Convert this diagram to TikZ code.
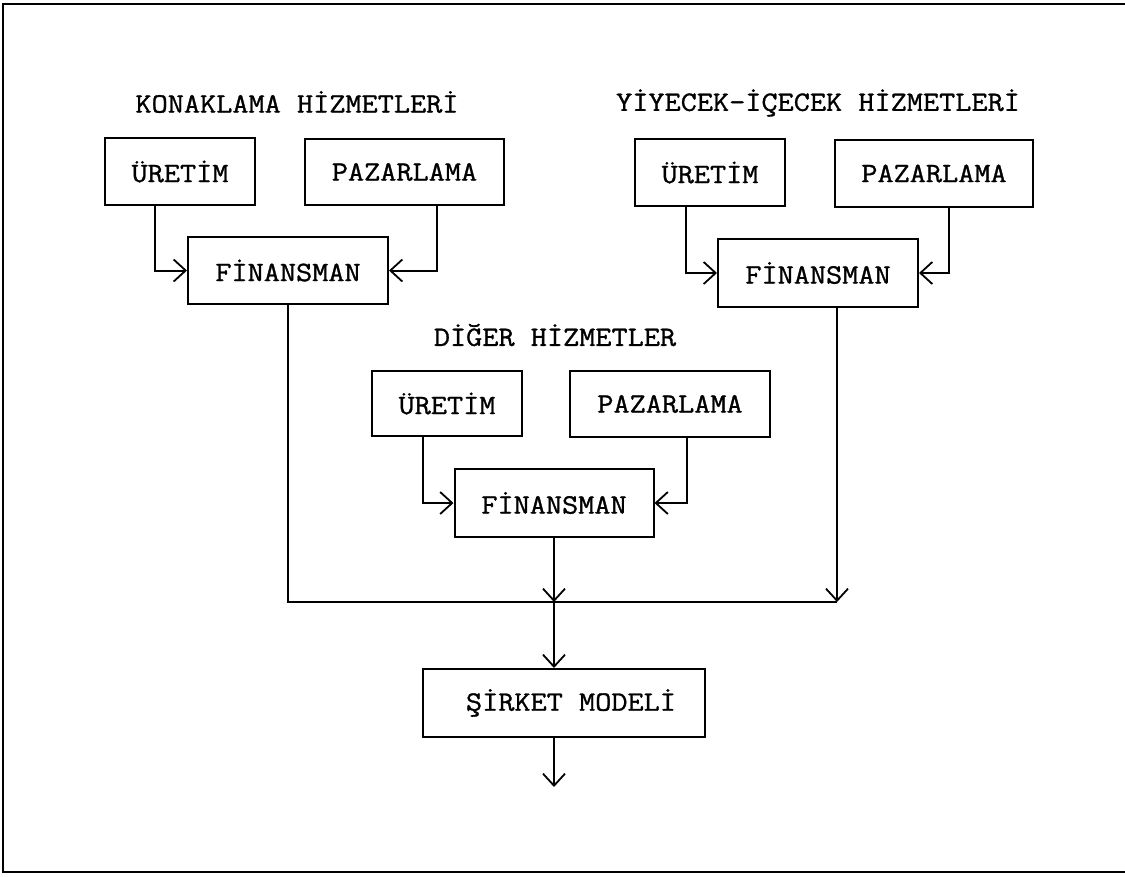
\documentclass[tikz,border=0pt]{standalone}
\usepackage{fontspec}
\newfontfamily\tw[FakeStretch=1.12,FakeBold=1.1]{Latin Modern Mono}
\usetikzlibrary{arrows.meta}
\tikzset{
  lw/.style={line width=2pt},
  box/.style={draw, lw, inner sep=0pt, font=\tw\fontsize{28}{30}\selectfont},
  ttl/.style={inner sep=0pt, font=\tw\fontsize{28}{30}\selectfont},
  conn/.style={lw, -{Straight Barb[length=12pt,width=22pt,line width=1.8pt]}},
  plain/.style={lw},
}
\begin{document}
\begin{tikzpicture}[x=1pt,y=-1pt]
\useasboundingbox (0,0) rectangle (1125,876);
% frame
\coordinate (ftr) at (1126,4);
\coordinate (ftl) at (3,4);
\coordinate (fbl) at (3,872);
\coordinate (fbr) at (1126,872);
\draw[plain] (ftr) -- (ftl) -- (fbl) -- (fbr);

% left group
\node[ttl] (tk) at (297,102) {KONAKLAMA HİZMETLERİ};
\node[box, minimum width=150pt, minimum height=67pt] (u1) at (180,171.5) {ÜRETİM};
\node[box, minimum width=199pt, minimum height=66pt] (p1) at (404.5,172) {PAZARLAMA};
\node[box, minimum width=200pt, minimum height=67pt] (f1) at (288,270.5) {FİNANSMAN};
\draw[conn] ([xshift=-25pt]u1.south) |- (f1.west);
\draw[conn] ([xshift=32.5pt]p1.south) |- (f1.east);

% right group
\node[ttl] (ty) at (818,103) {YİYECEK-İÇECEK HİZMETLERİ};
\node[box, minimum width=150pt, minimum height=67pt] (u2) at (710,172.5) {ÜRETİM};
\node[box, minimum width=198pt, minimum height=67pt] (p2) at (934,173.5) {PAZARLAMA};
\node[box, minimum width=200pt, minimum height=68pt] (f2) at (818,273) {FİNANSMAN};
\draw[conn] ([xshift=-24pt]u2.south) |- (f2.west);
\draw[conn] ([xshift=15pt]p2.south) |- (f2.east);

% middle group
\node[ttl] (td) at (555,335) {DİĞER HİZMETLER};
\node[box, minimum width=150pt, minimum height=65pt] (u3) at (447,403.5) {ÜRETİM};
\node[box, minimum width=200pt, minimum height=66pt] (p3) at (670,404) {PAZARLAMA};
\node[box, minimum width=199pt, minimum height=68pt] (f3) at (554,503) {FİNANSMAN};
\draw[conn] ([xshift=-24pt]u3.south) |- (f3.west);
\draw[conn] ([xshift=17pt]p3.south) |- (f3.east);

% collection
\coordinate (jl) at (288,602);
\coordinate (j) at (554,602);
\coordinate (jr) at (837,602);
\draw[plain] (f1.south) -- (jl) -- (jr);
\draw[conn] ([xshift=19pt]f2.south) -- (jr);
\draw[conn] (f3.south) -- (j);

% company model
\node[box, minimum width=282pt, minimum height=68pt] (s) at (564,703) {\hspace*{14pt}ŞİRKET MODELİ};
\coordinate (out) at (554,787);
\draw[conn] (j) -- (s.north -| j);
\draw[conn] (s.south -| j) -- (out);
\end{tikzpicture}
\end{document}
